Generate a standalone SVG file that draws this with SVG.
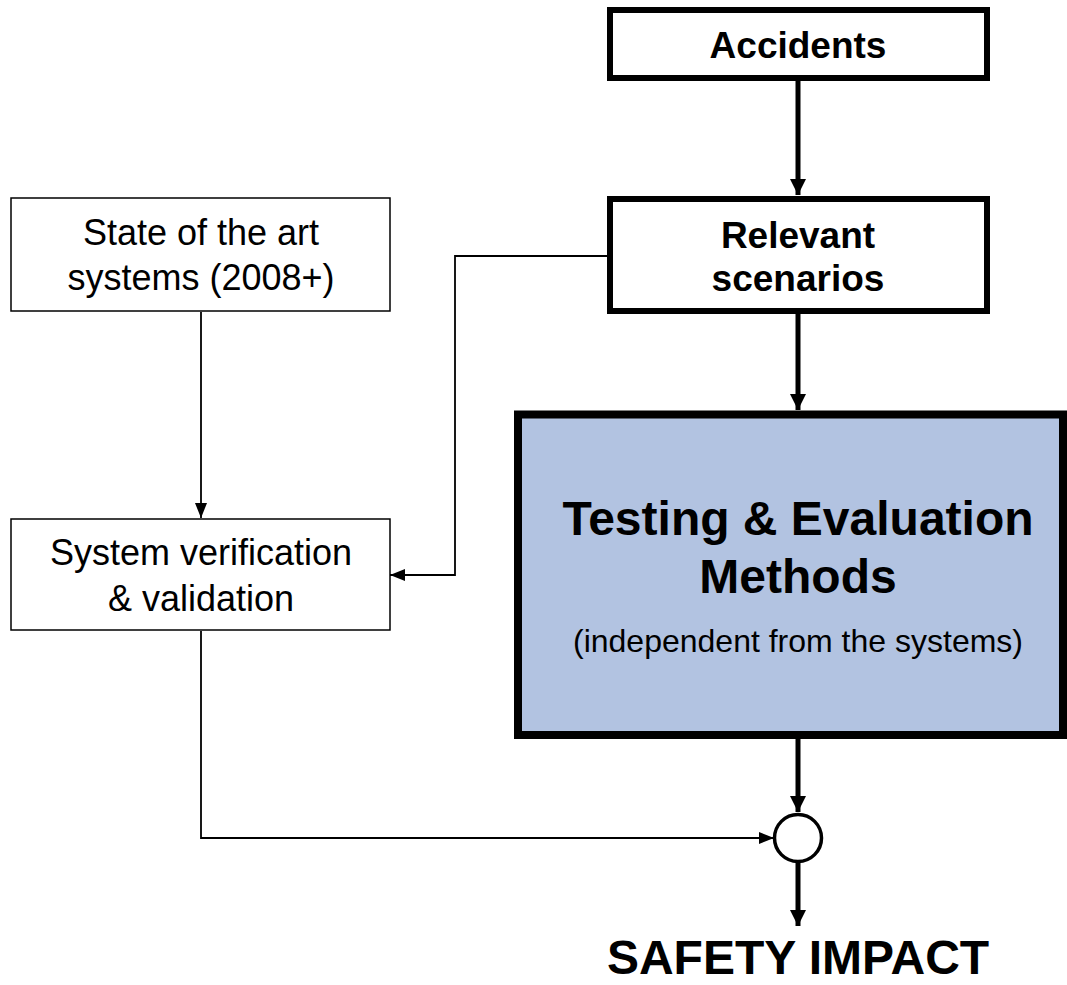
<svg xmlns="http://www.w3.org/2000/svg" width="1067" height="985" viewBox="0 0 1067 985">
<style>
.box{fill:#fff;stroke:#000}
.thin{fill:none;stroke:#000;stroke-width:1.8}
.thick{fill:none;stroke:#000;stroke-width:5}
.t{font-family:"Liberation Sans",Arial,sans-serif;fill:#000;text-anchor:middle}
.b{font-weight:bold}
</style>
<defs>
<marker id="ah" markerUnits="userSpaceOnUse" markerWidth="18" markerHeight="18" viewBox="0 0 18 18" refX="16" refY="9" orient="auto">
<path d="M0,1 L16,9 L0,17 Z" fill="#000"/>
</marker>
<marker id="as" markerUnits="userSpaceOnUse" markerWidth="16" markerHeight="14" viewBox="0 0 16 14" refX="15" refY="7" orient="auto">
<path d="M0,1 L15,7 L0,13 Z" fill="#000"/>
</marker>
</defs>
<rect width="1067" height="985" fill="#fff"/>
<g id="connectors">
<line class="thick" x1="798" y1="81" x2="798" y2="195" marker-end="url(#ah)"/>
<line class="thick" x1="798" y1="314" x2="798" y2="410" marker-end="url(#ah)"/>
<line class="thick" x1="798" y1="739" x2="798" y2="812" marker-end="url(#ah)"/>
<line class="thick" x1="798" y1="862" x2="798" y2="926" marker-end="url(#ah)"/>
<line class="thin" x1="201" y1="312" x2="201" y2="518" marker-end="url(#as)"/>
<polyline class="thin" points="607,256 455,256 455,575 390,575" marker-end="url(#as)"/>
<polyline class="thin" points="201,631 201,838 774,838" marker-end="url(#as)"/>
</g>
<g id="accidents">
<rect class="box" x="610" y="10" width="377" height="68" stroke-width="6"/>
<text class="t b" x="798" y="58" font-size="37">Accidents</text>
</g>
<g id="relevant">
<rect class="box" x="610" y="199" width="377" height="112" stroke-width="6"/>
<text class="t b" x="798" y="248" font-size="37">Relevant</text>
<text class="t b" x="798" y="291" font-size="37">scenarios</text>
</g>
<g id="testing">
<rect x="518" y="414.5" width="545" height="320.5" fill="#b2c3e1" stroke="#000" stroke-width="8"/>
<text class="t b" x="798" y="535" font-size="48">Testing &amp; Evaluation</text>
<text class="t b" x="798" y="593" font-size="48">Methods</text>
<text class="t" x="798" y="652" font-size="32">(independent from the systems)</text>
</g>
<g id="state">
<rect class="box" x="11" y="198" width="379" height="113" stroke-width="1.5"/>
<text class="t" x="201" y="245" font-size="36">State of the art</text>
<text class="t" x="201" y="290" font-size="36">systems (2008+)</text>
</g>
<g id="verification">
<rect class="box" x="11" y="519" width="379" height="111" stroke-width="1.5"/>
<text class="t" x="201" y="565" font-size="36">System verification</text>
<text class="t" x="201" y="611" font-size="36">&amp; validation</text>
</g>
<g id="junction">
<circle cx="798" cy="838" r="23.5" fill="#fff" stroke="#000" stroke-width="3.5"/>
</g>
<g id="safety">
<text class="t b" x="798" y="974" font-size="48">SAFETY IMPACT</text>
</g>
</svg>
